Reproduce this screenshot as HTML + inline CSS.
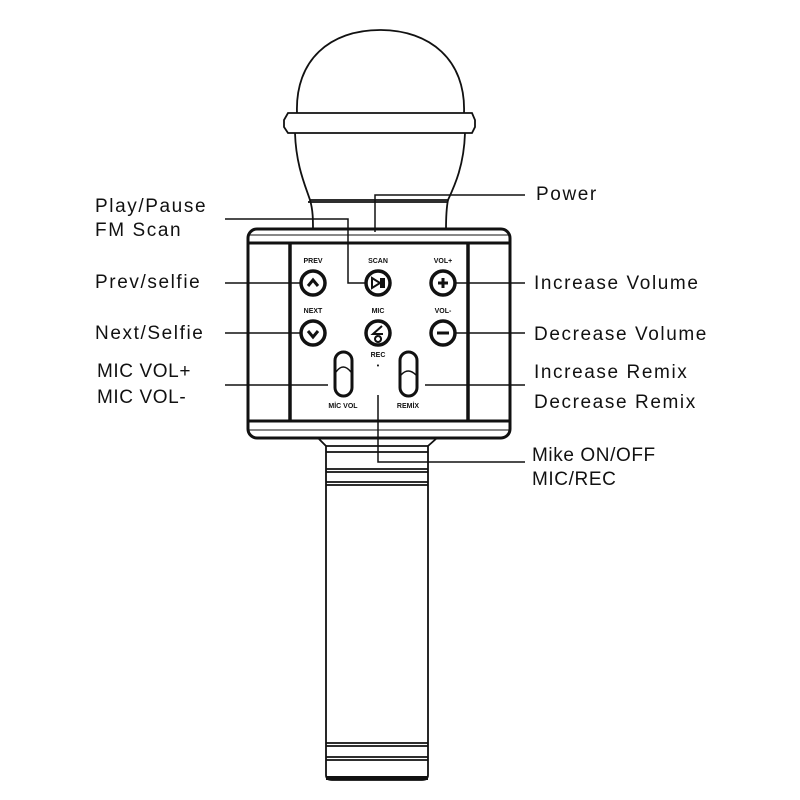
<!DOCTYPE html>
<html><head><meta charset="utf-8"><style>
html,body{margin:0;padding:0;background:#fff;}
svg{display:block;}
text{font-family:"Liberation Sans",sans-serif;fill:#111;}
.l{font-size:19px;letter-spacing:1.6px;}
.m{letter-spacing:0.6px;}
.s{font-size:7px;font-weight:bold;text-anchor:middle;}
</style></head><body>
<svg width="800" height="800" viewBox="0 0 800 800" xmlns="http://www.w3.org/2000/svg">
<g fill="none" stroke="#111" stroke-width="1.8">
<path d="M297,113 C295,60 330,30 380,30 C430,30 466,60 464,113"/>
<path d="M295,133 C296,165 305,185 310,200 L448,200 C455,185 464,165 465,133"/>
<path d="M288,113 L472,113 L475,120 L475,127 L472,133 L288,133 L284,127 L284,120 Z"/>
<path d="M310,200 C313,210 313,220 313,230 M448,200 C446,210 446,220 446,230"/>
<path d="M308,202 L448,202"/>
</g>
<rect x="248" y="229" width="262" height="209" rx="9" fill="#fff" stroke="#111" stroke-width="3"/>
<line x1="249" y1="243" x2="509" y2="243" stroke="#111" stroke-width="3"/>
<line x1="249" y1="421" x2="509" y2="421" stroke="#111" stroke-width="3"/>
<line x1="290" y1="243" x2="290" y2="421" stroke="#111" stroke-width="3.5"/>
<line x1="468" y1="243" x2="468" y2="421" stroke="#111" stroke-width="3.5"/>
<line x1="249" y1="235" x2="509" y2="235" stroke="#111" stroke-width="1"/>
<line x1="249" y1="430" x2="509" y2="430" stroke="#111" stroke-width="1"/>
<g fill="none" stroke="#111" stroke-width="1.8">
<path d="M318,438 L326,446 L326,775 Q326,780 332,780 L422,780 Q428,780 428,775 L428,446 L437,438"/>
<line x1="326" y1="446" x2="428" y2="446"/>
<line x1="326" y1="452" x2="428" y2="452"/>
<line x1="326" y1="469" x2="428" y2="469"/>
<line x1="326" y1="472" x2="428" y2="472"/>
<line x1="326" y1="482" x2="428" y2="482"/>
<line x1="326" y1="485" x2="428" y2="485"/>
<line x1="326" y1="743" x2="428" y2="743"/>
<line x1="326" y1="746" x2="428" y2="746"/>
<line x1="326" y1="757" x2="428" y2="757"/>
<line x1="326" y1="760" x2="428" y2="760"/>
</g>
<line x1="326" y1="778" x2="428" y2="778" stroke="#111" stroke-width="4"/>
<g fill="#fff" stroke="#111" stroke-width="3.5">
<circle cx="313" cy="283" r="12"/><circle cx="378" cy="283" r="12"/><circle cx="443" cy="283" r="12"/>
<circle cx="313" cy="333" r="12"/><circle cx="378" cy="333" r="12"/><circle cx="443" cy="333" r="12"/>
</g>
<g fill="none" stroke="#111" stroke-width="3">
<path d="M308,286 L313,280 L318,286"/>
<path d="M308,331 L313,337 L318,331"/>
<line x1="437" y1="333" x2="449" y2="333"/>
<line x1="443" y1="278" x2="443" y2="288"/><line x1="438" y1="283" x2="448" y2="283"/>
</g>
<path d="M372,278 L380,283 L372,288 Z" fill="none" stroke="#111" stroke-width="2"/>
<rect x="380" y="278" width="5" height="10" fill="#111"/>
<path d="M382,326 L373,334 L383,334 M378,336 a3,3 0 1 0 0.1,0" fill="none" stroke="#111" stroke-width="2"/>
<g fill="none" stroke="#111" stroke-width="3">
<rect x="335" y="352" width="17" height="44" rx="8.5"/>
<rect x="400" y="352" width="17" height="44" rx="8.5"/>
</g>
<g fill="none" stroke="#111" stroke-width="1.5">
<path d="M336,372 Q343,362 351,372"/>
<path d="M401,375 Q408,367 416,375"/>
</g>
<g class="s">
<text class="s" x="313" y="263">PREV</text>
<text class="s" x="378" y="263">SCAN</text>
<text class="s" x="443" y="263">VOL+</text>
<text class="s" x="313" y="313">NEXT</text>
<text class="s" x="378" y="313">MIC</text>
<text class="s" x="443" y="313">VOL-</text>
<text class="s" x="378" y="357">REC</text>
<text class="s" x="378" y="368">•</text>
<text class="s" x="343" y="408">MİC VOL</text>
<text class="s" x="408" y="408">REMİX</text>
</g>
<g fill="none" stroke="#111" stroke-width="1.5">
<path d="M225,219 L348,219 L348,283 L366,283"/>
<path d="M525,195 L375,195 L375,232"/>
<line x1="225" y1="283" x2="300" y2="283"/>
<line x1="225" y1="333" x2="300" y2="333"/>
<line x1="225" y1="385" x2="328" y2="385"/>
<line x1="456" y1="283" x2="525" y2="283"/>
<line x1="456" y1="333" x2="525" y2="333"/>
<line x1="425" y1="385" x2="525" y2="385"/>
<path d="M378,395 L378,462 L525,462"/>
</g>
<g class="l">
<text class="l" x="95" y="212">Play/Pause</text>
<text class="l" x="95" y="236">FM Scan</text>
<text class="l" x="95" y="288">Prev/selfie</text>
<text class="l" x="95" y="339">Next/Selfie</text>
<text class="l m" x="97" y="377">MIC VOL+</text>
<text class="l m" x="97" y="403">MIC VOL-</text>
<text class="l" x="536" y="200">Power</text>
<text class="l" x="534" y="289">Increase Volume</text>
<text class="l" x="534" y="340">Decrease Volume</text>
<text class="l" x="534" y="378">Increase Remix</text>
<text class="l" x="534" y="408">Decrease Remix</text>
<text class="l m" x="532" y="461">Mike ON/OFF</text>
<text class="l m" x="532" y="485">MIC/REC</text>
</g>
</svg>
</body></html>
